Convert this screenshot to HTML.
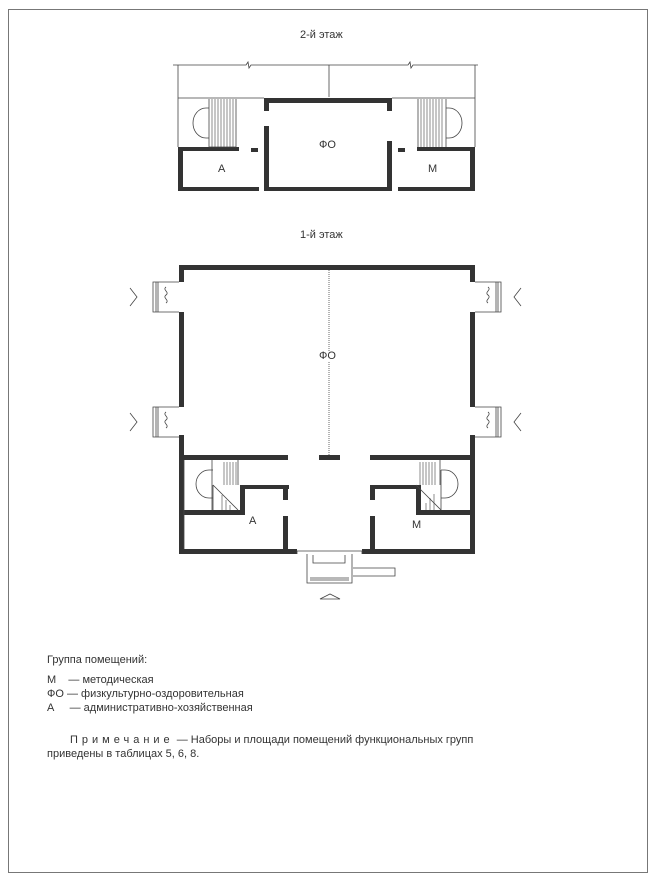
<!DOCTYPE html>
<html><head><meta charset="utf-8"><style>
html,body{margin:0;padding:0;background:#fff;}
body{width:658px;height:886px;position:relative;overflow:hidden;font-family:"Liberation Sans","DejaVu Sans",sans-serif;color:#333;}
.t{position:absolute;font-size:11px;white-space:nowrap;}
</style></head><body>
<svg width="658" height="886" style="position:absolute;left:0;top:0">
<rect x="8.5" y="9.5" width="639" height="863" fill="none" stroke="#777" stroke-width="1"/>
<g fill="#333" stroke="none">
<rect x="264" y="98" width="128" height="5"/>
<rect x="264" y="98" width="5" height="13"/>
<rect x="264" y="126" width="5" height="65"/>
<rect x="387" y="98" width="5" height="13"/>
<rect x="387" y="141" width="5" height="50"/>
<rect x="264" y="187" width="128" height="4"/>
<rect x="178" y="147" width="61" height="4"/>
<rect x="178" y="147" width="5" height="44"/>
<rect x="178" y="187" width="81" height="4"/>
<rect x="251" y="148" width="7" height="4"/>
<rect x="417" y="147" width="58" height="4"/>
<rect x="470" y="147" width="5" height="44"/>
<rect x="398" y="187" width="77" height="4"/>
<rect x="398" y="148" width="7" height="4"/>
<rect x="179" y="265" width="296" height="5"/>
<rect x="179" y="265" width="5" height="17"/>
<rect x="179" y="312" width="5" height="95"/>
<rect x="179" y="435" width="5" height="119"/>
<rect x="470" y="265" width="5" height="17"/>
<rect x="470" y="312" width="5" height="95"/>
<rect x="470" y="435" width="5" height="119"/>
<rect x="179" y="455" width="109" height="5"/>
<rect x="370" y="455" width="105" height="5"/>
<rect x="319" y="455" width="21" height="5"/>
<rect x="179" y="549" width="118" height="5"/>
<rect x="362" y="549" width="113" height="5"/>
<rect x="240" y="485" width="49" height="4"/>
<rect x="240" y="485" width="5" height="30"/>
<rect x="179" y="510" width="66" height="5"/>
<rect x="283" y="485" width="5" height="15"/>
<rect x="283" y="516" width="5" height="36"/>
<rect x="370" y="485" width="50" height="4"/>
<rect x="416" y="485" width="5" height="30"/>
<rect x="416" y="510" width="59" height="5"/>
<rect x="370" y="485" width="5" height="15"/>
<rect x="370" y="516" width="5" height="36"/>
</g>
<g fill="none" stroke="#444" stroke-width="0.8">
<path d="M173 65 H246 l2 -3 l1 6 l2 -3 H408 l2 -3 l1 6 l2 -3 H478"/>
<path d="M178 65 V98 M475 65 V98 M329 65 V97 M178 98 H264 M392 98 H475 M178 98 V147 M475 98 V147"/>
<path d="M209 99 V147 M236 99 V147 M209 147 H236"/>
<path d="M209 108 H206 A13 15 0 0 0 206 138 H209"/>
<path d="M418 99 V147 M446 99 V147"/>
<path d="M446 108 H449 A13 15 0 0 1 449 138 H446"/>
<path d="M329 270 V352 M329 362 V455" stroke-dasharray="1 1"/>
<path d="M184 460 V549"/>
<path d="M212 460 V510 M238 460 V485"/>
<path d="M213 470 H209 A13 14 0 0 0 209 498 H213"/>
<path d="M213 485 L238 510 M213 485 V510"/>
<path d="M440 460 V485 M416 485 L441 510"/>
<path d="M441 470 H445 A13 14 0 0 1 445 498 H441 M441 470 V510"/>
<path d="M297 554 V551 H362 V554 M307 554 V583 H352 V554 M353 568 H395 V576 H353 M310 578 H349 M310 580 H349"/>
<path d="M313 555 V563 H345 V555"/>
<path d="M329 599 L320 599 L330 594 L340 599 Z"/>
<path d="M179 282 H153 V312 H179 M156 282 V312 M158 282 V312"/>
<path d="M179 407 H153 V437 H179 M156 407 V437 M158 407 V437"/>
<path d="M475 282 H501 V312 H475 M498 282 V312 M496 282 V312"/>
<path d="M475 407 H501 V437 H475 M498 407 V437 M496 407 V437"/>
<path d="M166 287 c-4 3 4 5 0 8 c-4 3 4 5 0 8 M166 412 c-4 3 4 5 0 8 c-4 3 4 5 0 8 M488 287 c4 3 -4 5 0 8 c4 3 -4 5 0 8 M488 412 c4 3 -4 5 0 8 c4 3 -4 5 0 8"/>
<path d="M130 288 L137 297 L130 306 M130 413 L137 422 L130 431 M521 288 L514 297 L521 306 M521 413 L514 422 L521 431"/>
</g>
<g stroke="#444" stroke-width="0.6">
<path d="M212 99V147M215 99V147M218 99V147M221 99V147M224 99V147M227 99V147M230 99V147M233 99V147"/>
<path d="M421 99V147M424 99V147M427 99V147M430 99V147M433 99V147M436 99V147M439 99V147M442 99V147"/>
<path d="M224 462V485M227 462V485M230 462V485M233 462V485M236 462V485M222 495V510M226 500V510M230 505V510"/>
<path d="M420 462V485M423 462V485M426 462V485M429 462V485M432 462V485M435 462V485M426 503V510M430 498V510M434 494V510"/>
</g>
</svg>
<div class="t" style="left:300px;top:29px;">2-й этаж</div>
<div class="t" style="left:319px;top:139px;">ФО</div>
<div class="t" style="left:218px;top:163px;">А</div>
<div class="t" style="left:428px;top:163px;">М</div>
<div class="t" style="left:300px;top:229px;">1-й этаж</div>
<div class="t" style="left:319px;top:350px;">ФО</div>
<div class="t" style="left:249px;top:515px;">А</div>
<div class="t" style="left:412px;top:519px;">М</div>
<div class="t" style="left:47px;top:654px;">Группа помещений:</div>
<div class="t" style="left:47px;top:674px;">М&nbsp;&nbsp;&nbsp;&nbsp;— методическая</div>
<div class="t" style="left:47px;top:688px;">ФО — физкультурно-оздоровительная</div>
<div class="t" style="left:47px;top:702px;">А&nbsp;&nbsp;&nbsp;&nbsp;&nbsp;— административно-хозяйственная</div>
<div class="t" style="left:70px;top:734px;"><span style="letter-spacing:4px">Примечание</span> — Наборы и площади помещений функциональных групп</div>
<div class="t" style="left:47px;top:748px;">приведены в таблицах 5, 6, 8.</div>
</body></html>
